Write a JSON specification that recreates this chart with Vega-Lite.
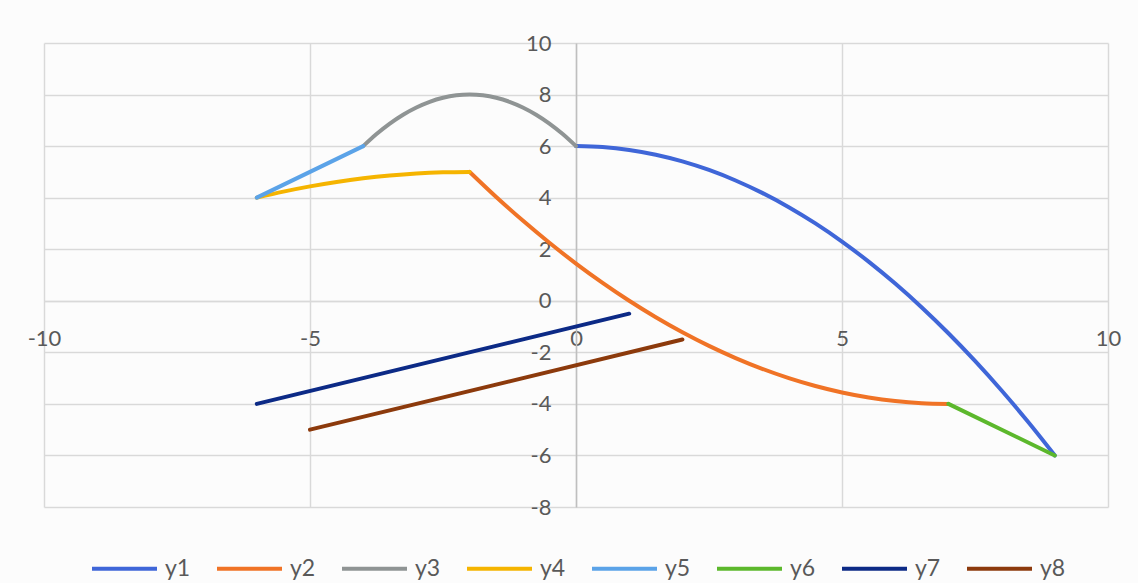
{
  "$schema": "https://vega.github.io/schema/vega-lite/v6.json",
  "width": 1064,
  "height": 464,
  "autosize": "none",
  "padding": {"left": 44, "top": 43, "right": 30, "bottom": 76},
  "background": "#fcfcfc",
  "config": {
    "view": {"stroke": null},
    "font": "Lato"
  },
  "data": {
    "values": [
      {"series": "y1", "x": 0, "y": 6},
      {"series": "y1", "x": 0.5, "y": 5.963},
      {"series": "y1", "x": 1, "y": 5.852},
      {"series": "y1", "x": 1.5, "y": 5.667},
      {"series": "y1", "x": 2, "y": 5.407},
      {"series": "y1", "x": 2.5, "y": 5.074},
      {"series": "y1", "x": 3, "y": 4.667},
      {"series": "y1", "x": 3.5, "y": 4.185},
      {"series": "y1", "x": 4, "y": 3.63},
      {"series": "y1", "x": 4.5, "y": 3.0},
      {"series": "y1", "x": 5, "y": 2.296},
      {"series": "y1", "x": 5.5, "y": 1.519},
      {"series": "y1", "x": 6, "y": 0.667},
      {"series": "y1", "x": 6.5, "y": -0.259},
      {"series": "y1", "x": 7, "y": -1.259},
      {"series": "y1", "x": 7.5, "y": -2.333},
      {"series": "y1", "x": 8, "y": -3.481},
      {"series": "y1", "x": 8.5, "y": -4.704},
      {"series": "y1", "x": 9, "y": -6},
      {"series": "y2", "x": -2, "y": 5},
      {"series": "y2", "x": -1.5, "y": 4.028},
      {"series": "y2", "x": -1, "y": 3.111},
      {"series": "y2", "x": -0.5, "y": 2.25},
      {"series": "y2", "x": 0, "y": 1.444},
      {"series": "y2", "x": 0.5, "y": 0.694},
      {"series": "y2", "x": 1, "y": 0},
      {"series": "y2", "x": 1.5, "y": -0.639},
      {"series": "y2", "x": 2, "y": -1.222},
      {"series": "y2", "x": 2.5, "y": -1.75},
      {"series": "y2", "x": 3, "y": -2.222},
      {"series": "y2", "x": 3.5, "y": -2.639},
      {"series": "y2", "x": 4, "y": -3},
      {"series": "y2", "x": 4.5, "y": -3.306},
      {"series": "y2", "x": 5, "y": -3.556},
      {"series": "y2", "x": 5.5, "y": -3.75},
      {"series": "y2", "x": 6, "y": -3.889},
      {"series": "y2", "x": 6.5, "y": -3.972},
      {"series": "y2", "x": 7, "y": -4},
      {"series": "y3", "x": -4, "y": 6},
      {"series": "y3", "x": -3.75, "y": 6.469},
      {"series": "y3", "x": -3.5, "y": 6.875},
      {"series": "y3", "x": -3.25, "y": 7.219},
      {"series": "y3", "x": -3, "y": 7.5},
      {"series": "y3", "x": -2.75, "y": 7.719},
      {"series": "y3", "x": -2.5, "y": 7.875},
      {"series": "y3", "x": -2.25, "y": 7.969},
      {"series": "y3", "x": -2, "y": 8},
      {"series": "y3", "x": -1.75, "y": 7.969},
      {"series": "y3", "x": -1.5, "y": 7.875},
      {"series": "y3", "x": -1.25, "y": 7.719},
      {"series": "y3", "x": -1, "y": 7.5},
      {"series": "y3", "x": -0.75, "y": 7.219},
      {"series": "y3", "x": -0.5, "y": 6.875},
      {"series": "y3", "x": -0.25, "y": 6.469},
      {"series": "y3", "x": 0, "y": 6},
      {"series": "y4", "x": -6, "y": 4},
      {"series": "y4", "x": -5.5, "y": 4.234},
      {"series": "y4", "x": -5, "y": 4.438},
      {"series": "y4", "x": -4.5, "y": 4.609},
      {"series": "y4", "x": -4, "y": 4.75},
      {"series": "y4", "x": -3.5, "y": 4.859},
      {"series": "y4", "x": -3, "y": 4.938},
      {"series": "y4", "x": -2.5, "y": 4.984},
      {"series": "y4", "x": -2, "y": 5},
      {"series": "y5", "x": -6, "y": 4},
      {"series": "y5", "x": -4, "y": 6},
      {"series": "y6", "x": 7, "y": -4},
      {"series": "y6", "x": 9, "y": -6},
      {"series": "y7", "x": -6, "y": -4},
      {"series": "y7", "x": 1, "y": -0.5},
      {"series": "y8", "x": -5, "y": -5},
      {"series": "y8", "x": 2, "y": -1.5}
    ]
  },
  "mark": {"type": "line", "strokeWidth": 4, "interpolate": "monotone", "strokeCap": "round"},
  "encoding": {
    "x": {
      "field": "x",
      "type": "quantitative",
      "scale": {"domain": [-10, 10], "nice": false, "zero": false},
      "axis": {
        "title": null,
        "orient": "bottom",
        "offset": -206,
        "values": [-10, -5, 0, 5, 10],
        "labelExpr": "replace(datum.label, '−', '-')",
        "grid": true,
        "gridColor": "#d9d9d9",
        "gridWidth": 1.5,
        "domain": true,
        "domainColor": "#d9d9d9",
        "domainWidth": 1.5,
        "ticks": false,
        "tickSize": 0,
        "labelPadding": 27,
        "labelFontSize": 22,
        "labelColor": "#595959",
        "labelFont": "Lato",
        "labelFlush": false,
        "labelOverlap": false,
        "labelBound": false
      }
    },
    "y": {
      "field": "y",
      "type": "quantitative",
      "scale": {"domain": [-8, 10], "nice": false, "zero": false},
      "axis": {
        "title": null,
        "orient": "left",
        "offset": -532,
        "values": [-8, -6, -4, -2, 0, 2, 4, 6, 8, 10],
        "labelExpr": "replace(datum.label, '−', '-')",
        "grid": true,
        "gridColor": "#d9d9d9",
        "gridWidth": 1.5,
        "domain": true,
        "domainColor": "#bfbfbf",
        "domainWidth": 1.5,
        "ticks": false,
        "tickSize": 0,
        "labelPadding": 25,
        "labelFontSize": 22,
        "labelColor": "#595959",
        "labelFont": "Lato",
        "labelFlush": false,
        "labelOverlap": false,
        "labelBound": false
      }
    },
    "color": {
      "field": "series",
      "type": "nominal",
      "scale": {
        "domain": ["y1", "y2", "y3", "y4", "y5", "y6", "y7", "y8"],
        "range": ["#3f66d8", "#f07326", "#8f9494", "#f5b400", "#5ba3e8", "#5cb82c", "#0c2a86", "#8c3a0c"]
      },
      "legend": {
        "title": null,
        "orient": "none",
        "legendX": 46,
        "legendY": 491,
        "direction": "horizontal",
        "symbolType": "stroke",
        "symbolSize": 4225,
        "symbolStrokeWidth": 4,
        "labelFontSize": 23,
        "labelColor": "#595959",
        "labelFont": "Lato",
        "labelOffset": 6,
        "columnPadding": 18
      }
    }
  }
}
